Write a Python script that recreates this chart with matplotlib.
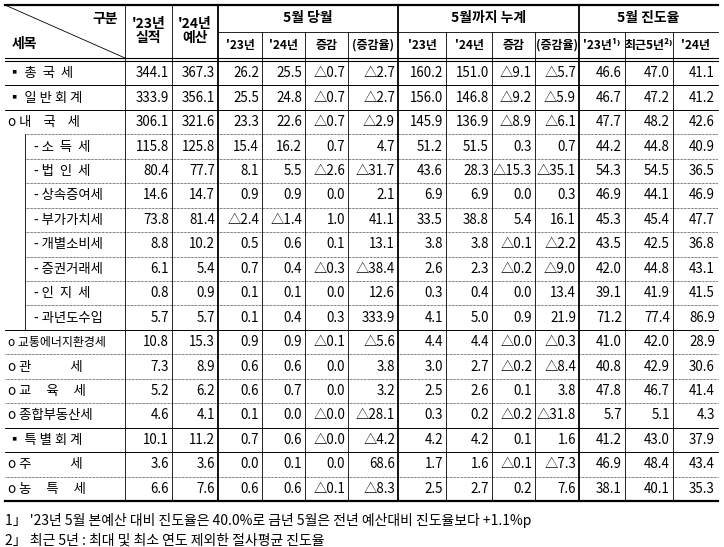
import matplotlib.pyplot as plt

plt.rcParams['font.family'] = ['Noto Sans CJK KR', 'DejaVu Sans']

row_labels = ['▪ 총  국  세', '▪ 일 반 회 계', 'o 내    국    세', '- 소  득  세', '- 법  인  세', '- 상속증여세',
              '- 부가가치세', '- 개별소비세', '- 증권거래세', '- 인  지  세', '- 과년도수입',
              'o 교통에너지환경세', 'o 관             세', 'o 교     육     세', 'o 종합부동산세',
              '▪ 특 별 회 계', 'o 주             세', 'o 농     특     세']
actual23 = ['344.1', '333.9', '306.1', '115.8', '80.4', '14.6', '73.8', '8.8', '6.1', '0.8', '5.7',
            '10.8', '7.3', '5.2', '4.6', '10.1', '3.6', '6.6']
budget24 = ['367.3', '356.1', '321.6', '125.8', '77.7', '14.7', '81.4', '10.2', '5.4', '0.9', '5.7',
            '15.3', '8.9', '6.2', '4.1', '11.2', '3.6', '7.6']
may23 = ['26.2', '25.5', '23.3', '15.4', '8.1', '0.9', '△2.4', '0.5', '0.7', '0.1', '0.1',
         '0.9', '0.6', '0.6', '0.1', '0.7', '0.0', '0.6']
may24 = ['25.5', '24.8', '22.6', '16.2', '5.5', '0.9', '△1.4', '0.6', '0.4', '0.1', '0.4',
         '0.9', '0.6', '0.7', '0.0', '0.6', '0.1', '0.6']
may_diff = ['△0.7', '△0.7', '△0.7', '0.7', '△2.6', '0.0', '1.0', '0.1', '△0.3', '0.0', '0.3',
            '△0.1', '0.0', '0.0', '△0.0', '△0.0', '0.0', '△0.1']
may_rate = ['△2.7', '△2.7', '△2.9', '4.7', '△31.7', '2.1', '41.1', '13.1', '△38.4', '12.6', '333.9',
            '△5.6', '3.8', '3.2', '△28.1', '△4.2', '68.6', '△8.3']
cum23 = ['160.2', '156.0', '145.9', '51.2', '43.6', '6.9', '33.5', '3.8', '2.6', '0.3', '4.1',
         '4.4', '3.0', '2.5', '0.3', '4.2', '1.7', '2.5']
cum24 = ['151.0', '146.8', '136.9', '51.5', '28.3', '6.9', '38.8', '3.8', '2.3', '0.4', '5.0',
         '4.4', '2.7', '2.6', '0.2', '4.2', '1.6', '2.7']
cum_diff = ['△9.1', '△9.2', '△8.9', '0.3', '△15.3', '0.0', '5.4', '△0.1', '△0.2', '0.0', '0.9',
            '△0.0', '△0.2', '0.1', '△0.2', '0.1', '△0.1', '0.2']
cum_rate = ['△5.7', '△5.9', '△6.1', '0.7', '△35.1', '0.3', '16.1', '△2.2', '△9.0', '13.4', '21.9',
            '△0.3', '△8.4', '3.8', '△31.8', '1.6', '△7.3', '7.6']
prog23 = ['46.6', '46.7', '47.7', '44.2', '54.3', '46.9', '45.3', '43.5', '42.0', '39.1', '71.2',
          '41.0', '40.8', '47.8', '5.7', '41.2', '46.9', '38.1']
prog5y = ['47.0', '47.2', '48.2', '44.8', '54.5', '44.1', '45.4', '42.5', '44.8', '41.9', '77.4',
          '42.0', '42.9', '46.7', '5.1', '43.0', '48.4', '40.1']
prog24 = ['41.1', '41.2', '42.6', '40.9', '36.5', '46.9', '47.7', '36.8', '43.1', '41.5', '86.9',
          '28.9', '30.6', '41.4', '4.3', '37.9', '43.4', '35.3']
sub_headers = ["'23년", "'24년", '증감', '(증감율)', "'23년", "'24년", '증감', '(증감율)',
               "'23년¹⁾", '최근5년²⁾', "'24년"]
group_headers = ['5월 당월', '5월까지 누계', '5월 진도율']
footnotes = ["1」 '23년 5월 본예산 대비 진도율은 40.0%로 금년 5월은 전년 예산대비 진도율보다 +1.1%p",
             '2」 최근 5년 : 최대 및 최소 연도 제외한 절사평균 진도율']

cols = [actual23, budget24, may23, may24, may_diff, may_rate, cum23, cum24, cum_diff, cum_rate,
        prog23, prog5y, prog24]
xe = [5, 125, 172, 218, 262, 305, 348, 398, 446, 492, 535, 579, 625, 673, 718]
top, hbot, bot = 5, 59, 501
rh = (bot - hbot - 2) / len(row_labels)

fig = plt.figure(figsize=(7.24, 5.47), dpi=100)
ax = fig.add_axes([0, 0, 1, 1])
ax.set_xlim(0, 724)
ax.set_ylim(547, 0)
ax.axis('off')
fs = 9.6

# outer / header lines
ax.plot([xe[0], xe[-1]], [top, top], color='black', lw=1.6)
ax.plot([xe[0], xe[-1]], [bot, bot], color='black', lw=1.6)
ax.plot([xe[0], xe[-1]], [hbot - 1, hbot - 1], color='black', lw=0.8)
ax.plot([xe[0], xe[-1]], [hbot + 2, hbot + 2], color='black', lw=0.8)
ax.plot([xe[3], xe[-1]], [32, 32], color='black', lw=0.6)
for i, x in enumerate(xe[1:-1], start=1):
    if i in (3, 7, 11):
        ax.plot([x, x], [top, bot], color='black', lw=1.3)
    elif i in (1, 2):
        ax.plot([x, x], [top, bot], color='black', lw=0.6)
    else:
        ax.plot([x, x], [32, bot], color='black', lw=0.6)
ax.plot([xe[0], xe[1]], [top, hbot - 1], color='black', lw=0.6)

ax.text(118, 19, '구분', ha='right', va='center', fontsize=10, fontweight='bold')
ax.text(12, 44, '세목', ha='left', va='center', fontsize=10, fontweight='bold')
ax.text((xe[1] + xe[2]) / 2, 31, "'23년\n실적", ha='center', va='center', fontsize=10,
        fontweight='bold', linespacing=1.0)
ax.text((xe[2] + xe[3]) / 2, 31, "'24년\n예산", ha='center', va='center', fontsize=10,
        fontweight='bold', linespacing=1.0)
for g, (a, b) in zip(group_headers, [(3, 7), (7, 11), (11, 14)]):
    ax.text((xe[a] + xe[b]) / 2, 18, g, ha='center', va='center', fontsize=10, fontweight='bold')
for j, s in enumerate(sub_headers):
    ax.text((xe[j + 3] + xe[j + 4]) / 2, 45, s, ha='center', va='center', fontsize=8.6,
            fontweight='bold')

solid_after = {0, 1, 10, 14, 15}
for r, lab in enumerate(row_labels):
    y0 = hbot + 2 + r * rh
    yc = y0 + rh / 2
    sub = 3 <= r <= 10
    if sub:
        ax.plot([25, 25], [y0, y0 + rh], color='black', lw=0.6)
    lx = 34 if sub else 8
    ax.text(lx, yc, lab, ha='left', va='center', fontsize=fs if r != 11 else 8.6)
    for j, col in enumerate(cols):
        ax.text(xe[j + 2] - 3, yc, col[r], ha='right', va='center', fontsize=fs)
    if r < len(row_labels) - 1:
        yb = y0 + rh
        if r in solid_after:
            ax.plot([xe[0], xe[-1]], [yb, yb], color='black', lw=0.7)
        else:
            x0 = 25 if (3 <= r < 10 or r == 2) else xe[0]
            ax.plot([x0, xe[-1]], [yb, yb], color='black', lw=0.5, ls=(0, (1, 1)))

ax.text(5, 520, footnotes[0], ha='left', va='center', fontsize=10)
ax.text(5, 541, footnotes[1], ha='left', va='center', fontsize=10)

fig.savefig('out.png', dpi=100)
